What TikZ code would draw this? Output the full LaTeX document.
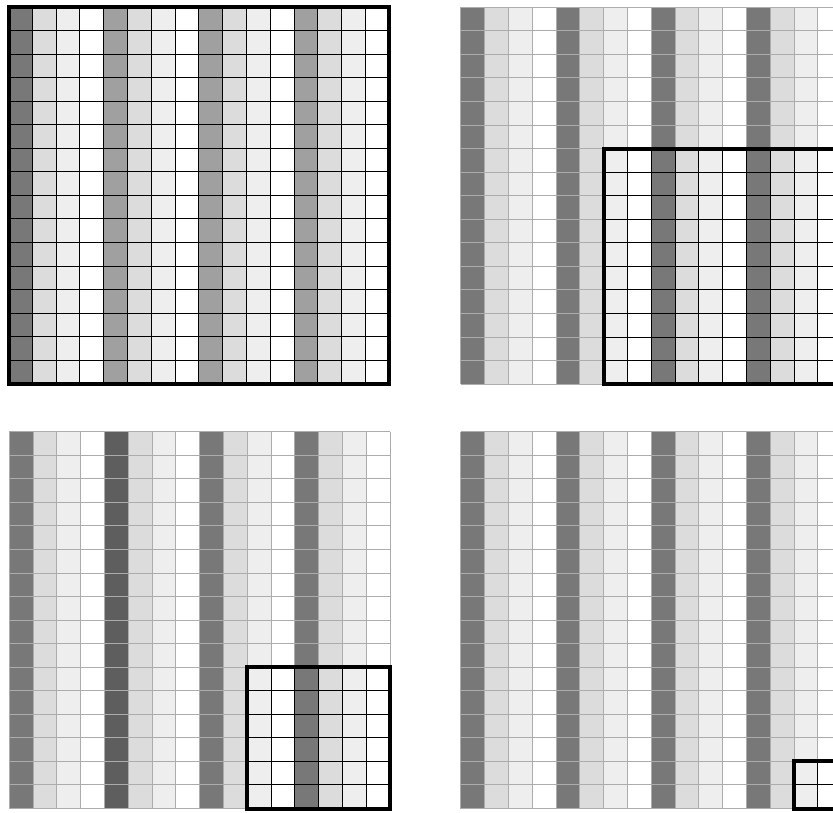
\documentclass[tikz,border=0pt]{standalone}
\definecolor{cDark}{RGB}{120,120,120}
\definecolor{cMed}{RGB}{160,160,160}
\definecolor{cDeep}{RGB}{94,94,94}
\definecolor{cLa}{RGB}{220,220,220}
\definecolor{cLb}{RGB}{238,238,238}
\definecolor{gline}{RGB}{172,172,172}
\def\cw{23.8}
\def\ch{23.55}
\tikzset{
  thingrid/.style={draw=gline,line width=1pt},
  blackgrid/.style={draw=black,line width=0.95pt},
  framebox/.style={draw=black,line width=4pt},
}
% #1 x0, #2 y0, #3..#6 colours of columns 0,4,8,12, #7 first framed index
\newcommand{\mygrid}[7]{%
  \foreach \i/\c in {0/#3,4/#4,8/#5,12/#6}{
    \fill[\c] ({#1+\i*\cw},#2) rectangle ++(\cw,16*\ch);}
  \foreach \i in {1,5,9,13}{
    \fill[cLa] ({#1+\i*\cw},#2) rectangle ++(\cw,16*\ch);}
  \foreach \i in {2,6,10,14}{
    \fill[cLb] ({#1+\i*\cw},#2) rectangle ++(\cw,16*\ch);}
  \foreach \k in {0,...,16}{
    \draw[thingrid] ({#1+\k*\cw},#2) -- ++(0,16*\ch);
    \draw[thingrid] (#1,{#2+\k*\ch}) -- ++(16*\cw,0);}
  \foreach \k in {#7,...,16}{
    \draw[blackgrid] ({#1+\k*\cw},{#2+#7*\ch}) -- ({#1+\k*\cw},{#2+16*\ch});
    \draw[blackgrid] ({#1+#7*\cw},{#2+\k*\ch}) -- ({#1+16*\cw},{#2+\k*\ch});}
  \draw[framebox] ({#1+#7*\cw},{#2+#7*\ch}) rectangle ({#1+16*\cw},{#2+16*\ch});
}
\begin{document}
\begin{tikzpicture}[x=1pt,y=-1pt]
\useasboundingbox (0,0) rectangle (833,812);
\clip (0,0) rectangle (833,812);
\mygrid{8.5}{7}{cDark}{cMed}{cMed}{cMed}{0}
\mygrid{460.8}{7.3}{cDark}{cDark}{cDark}{cDark}{6}
\mygrid{9.2}{431.7}{cDark}{cDeep}{cDark}{cDark}{10}
\mygrid{460.8}{431.7}{cDark}{cDark}{cDark}{cDark}{14}
\end{tikzpicture}
\end{document}
